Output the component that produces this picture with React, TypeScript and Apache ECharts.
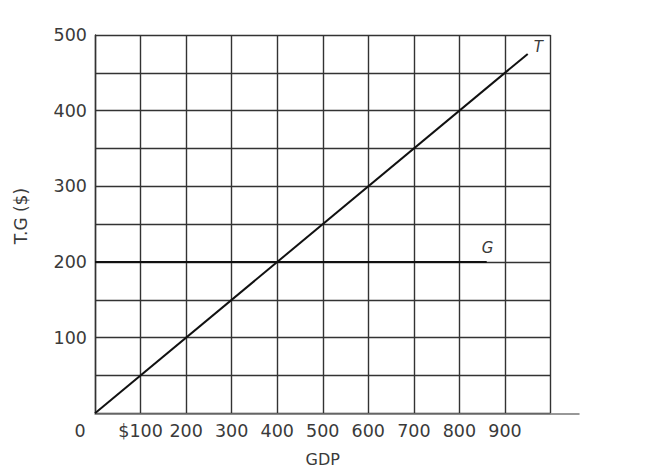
import { useEffect, useRef } from 'react';
import * as echarts from 'echarts';

// GDP axis and tax / government spending lines
const xTicks = [0, 100, 200, 300, 400, 500, 600, 700, 800, 900, 1000];
const yTicks = [0, 100, 200, 300, 400, 500];
const taxLine: [number, number][] = [
  [0, 0],
  [950, 475],
];
const govLine: [number, number][] = [
  [0, 200],
  [860, 200],
];

const FONT = 'DejaVu Sans';
const INK = '#3a3a3a';

export default function App() {
  const chartRef = useRef<HTMLDivElement>(null);

  useEffect(() => {
    if (!chartRef.current) return;
    const chart = echarts.init(chartRef.current, undefined, { renderer: 'svg' });

    const option: echarts.EChartsOption = {
      animation: false,
      backgroundColor: '#fff',
      grid: [
        { left: 95, right: 102.5, top: 35, bottom: 58.7, outerBoundsMode: 'none' } as any,
        // wider grid only for the x axis line that runs past the last gridline
        { left: 95, right: 74, top: 35, bottom: 58.7, outerBoundsMode: 'none' } as any,
      ],
      xAxis: [
        {
          type: 'value',
          gridIndex: 1,
          min: 0,
          max: 1000,
          axisLine: { show: true, lineStyle: { color: '#777', width: 1.5 } },
          axisTick: { show: false },
          axisLabel: { show: false },
          splitLine: { show: false },
        },
        {
          type: 'value',
          gridIndex: 0,
          min: xTicks[0],
          max: xTicks[xTicks.length - 1],
          interval: 100,
          name: 'GDP',
          nameLocation: 'middle',
          nameGap: 38,
          nameTextStyle: { fontFamily: FONT, fontSize: 16, color: INK },
          axisLine: { show: false },
          axisTick: { show: false },
          axisLabel: {
            fontFamily: FONT,
            fontSize: 17.5,
            color: INK,
            margin: 9,
            formatter: (v: number) => {
              if (v === 0) return '{z|0}';
              if (v === 100) return '$100';
              if (v >= 1000) return '';
              return String(v);
            },
            rich: {
              z: { fontFamily: FONT, fontSize: 17.5, color: INK, padding: [0, 30, 0, 0] },
            },
          },
          splitLine: { show: true, lineStyle: { color: '#333', width: 1.4 } },
        },
      ],
      yAxis: [
        {
          type: 'value',
          gridIndex: 1,
          min: 0,
          max: 500,
          show: false,
        },
        {
          type: 'value',
          gridIndex: 0,
          min: yTicks[0],
          max: yTicks[yTicks.length - 1],
          interval: 50,
          name: 'T.G ($)',
          nameLocation: 'middle',
          nameGap: 66,
          nameRotate: 90,
          nameTextStyle: { fontFamily: FONT, fontSize: 17, color: INK, padding: [0, 0, 0, 16] },
          axisLine: { show: true, lineStyle: { color: '#333', width: 1.4 } },
          axisTick: { show: false },
          axisLabel: {
            fontFamily: FONT,
            fontSize: 17.5,
            color: INK,
            margin: 8,
            formatter: (v: number) => (v > 0 && yTicks.includes(v) ? String(v) : ''),
          },
          splitLine: { show: true, lineStyle: { color: '#333', width: 1.4 } },
        },
      ],
      series: [
        {
          type: 'line',
          xAxisIndex: 1,
          yAxisIndex: 1,
          data: taxLine,
          showSymbol: false,
          lineStyle: { color: '#111', width: 2 },
          endLabel: {
            show: true,
            formatter: 'T',
            fontFamily: FONT,
            fontStyle: 'italic',
            fontSize: 15,
            color: INK,
            offset: [-2, -7],
          },
        },
        {
          type: 'line',
          xAxisIndex: 1,
          yAxisIndex: 1,
          data: govLine,
          showSymbol: false,
          lineStyle: { color: '#111', width: 2 },
          endLabel: {
            show: true,
            formatter: 'G',
            fontFamily: FONT,
            fontStyle: 'italic',
            fontSize: 15,
            color: INK,
            offset: [-13, -14],
          },
        },
      ],
    };

    chart.setOption(option);

    return () => {
      chart.dispose();
    };
  }, []);

  return (
    <div
      ref={chartRef}
      style={{ position: 'fixed', left: 0, top: 0, width: 653, height: 472 }}
    />
  );
}
